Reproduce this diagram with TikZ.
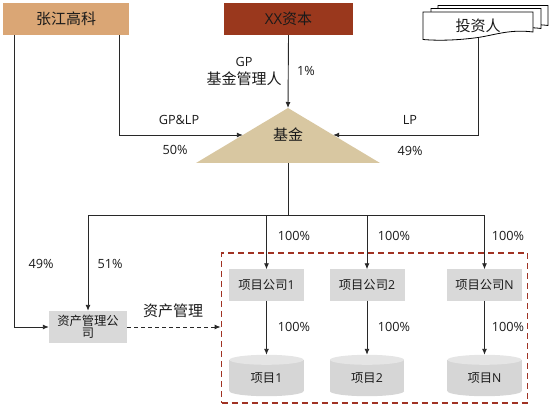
\documentclass[tikz,border=0pt]{standalone}
\usepackage{fontspec}
\setmainfont{Open Sans}
\newfontfamily\cjk{Noto Sans CJK SC}
\usetikzlibrary{arrows.meta,calc}
\definecolor{zjfill}{RGB}{218,166,117}
\definecolor{xxfill}{RGB}{154,56,29}
\definecolor{trifill}{RGB}{216,199,161}
\definecolor{boxgray}{RGB}{217,217,217}
\definecolor{cylbody}{RGB}{214,214,214}
\definecolor{cyltop}{RGB}{229,229,229}
\definecolor{grpred}{RGB}{160,50,35}
\definecolor{txt}{RGB}{26,26,26}
\definecolor{ln}{RGB}{40,40,40}
\begin{document}
\begin{tikzpicture}[x=1pt,y=-1pt,
  big/.style={font=\fontsize{15}{18}\selectfont\cjk, text=txt, inner sep=0pt},
  lab/.style={font=\fontsize{12.7}{15}\selectfont, text=txt, inner sep=0pt},
  topbox/.style={rectangle, minimum width=126pt, minimum height=32pt, inner sep=0pt, big},
  gbox/.style={rectangle, fill=boxgray, minimum width=75pt, minimum height=31pt, inner sep=0pt,
    font=\fontsize{12.3}{12.5}\selectfont\cjk, text=txt, align=center},
  cylnode/.style={rectangle, minimum width=74pt, minimum height=41pt, inner sep=0pt},
  cyltext/.style={font=\fontsize{12.3}{14}\selectfont\cjk, text=txt, inner sep=0pt},
  page/.style={fill=white, draw=black, line width=0.8pt},
  arr/.style={draw=ln, line width=0.9pt, -{Latex[length=6pt,width=5pt]}},
  conn/.style={draw=ln, line width=0.9pt},
]
\useasboundingbox (0,0) rectangle (556,411);

% top boxes
\node[topbox, fill=zjfill] (zj) at (66,19) {张江高科};
\node[topbox, fill=xxfill, minimum width=129pt] (xx) at (288.5,19) {{\rmfamily XX}资本};

% multi-document investor shape
\foreach \dx/\dy in {15/6.5, 8/3.5, 0/0}{
  \path[page, xshift=\dx pt, yshift=\dy pt] (423,12) -- (533,12) -- (533,32)
    .. controls (510,29) and (495,35) .. (478,37.5)
    .. controls (460,40) and (440,41) .. (423,39.5) -- cycle;
}
\node[big, minimum width=110pt, minimum height=23pt] (inv) at (478,26) {投资人};

% fund triangle
\fill[trifill] (288,108) -- (380,163) -- (196,163) -- cycle;
\coordinate (apex) at (288,108);
\coordinate (fundL) at (242.8,135);
\coordinate (fundR) at (333.2,135);
\coordinate (fundB) at (288,163);
\node[big] (fund) at (288,135) {基金};

% lower boxes
\node[gbox, minimum width=78pt, minimum height=32pt] (amc) at (88,327) {资产管理公\\司};
\node[draw=grpred, dash pattern=on 6pt off 4pt, line width=1.8pt, minimum width=306pt,
  minimum height=150pt, inner sep=0pt] (grp) at (374.5,328) {};
\node[gbox] (p1) at (266.5,285) {项目公司{\rmfamily 1}};
\node[gbox] (p2) at (367,285) {项目公司{\rmfamily 2}};
\node[gbox] (pN) at (484.5,285) {项目公司{\rmfamily N}};

% cylinders
\node[cylnode] (c1) at (266.5,375.5) {};
\node[cylnode] (c2) at (367,375.5) {};
\node[cylnode] (cN) at (484.5,375.5) {};
\foreach \c in {c1,c2,cN}{
  \fill[cylbody] ($(\c.north west)+(0,-5pt)$) rectangle ($(\c.south east)+(0,5pt)$);
  \fill[cylbody] ($(\c.south)+(0,5pt)$) ellipse (37pt and 5pt);
  \fill[cyltop] ($(\c.north)+(0,-5pt)$) ellipse (37pt and 5pt);
}
\node[cyltext] (c1t) at ($(c1)+(0,-2.5pt)$) {项目{\rmfamily 1}};
\node[cyltext] (c2t) at ($(c2)+(0,-2.5pt)$) {项目{\rmfamily 2}};
\node[cyltext] (cNt) at ($(cN)+(0,-2.5pt)$) {项目{\rmfamily N}};

% connectors
\draw[arr] (xx.south) -- (apex);
\draw[arr] ([xshift=-10pt]zj.south east) |- (fundL);
\draw[arr] (inv.south) |- (fundR);
\draw[arr] ([xshift=12pt]zj.south west) |- (amc.west);
\coordinate (bus) at (288,215);
\draw[conn] (fundB) -- (bus);
\draw[arr] (bus) -| (amc.north);
\draw[arr] (bus) -| (p1.north);
\draw[arr] (bus) -| (p2.north);
\draw[arr] (bus) -| (pN.north);
\draw[arr] (p1.south) -- (c1.north);
\draw[arr] (p2.south) -- (c2.north);
\draw[arr] (pN.south) -- (cN.north);
\draw[arr, dash pattern=on 4pt off 3pt] (amc.east) -- (amc.east -| grp.west);

% labels
\node[lab] (lgp) at (244,62) {GP};
\node[big] (lgm) at (244,79) {基金管理人};
\node[lab] (l1) at (306,71) {1\%};
\node[lab] (lgplp) at (179,120) {GP\&LP};
\node[lab] (l50) at (175,150) {50\%};
\node[lab] (llp) at (410,120) {LP};
\node[lab] (l49a) at (410,151) {49\%};
\node[lab] (l49b) at (41,264) {49\%};
\node[lab] (l51) at (110,264) {51\%};
\node[lab] (la1) at (294,236) {100\%};
\node[lab] (la2) at (394,236) {100\%};
\node[lab] (laN) at (508,236) {100\%};
\node[lab] (lb1) at (294,327) {100\%};
\node[lab] (lb2) at (394,327) {100\%};
\node[lab] (lbN) at (508,327) {100\%};
\node[big] (lam) at (173,311) {资产管理};
\end{tikzpicture}
\end{document}
